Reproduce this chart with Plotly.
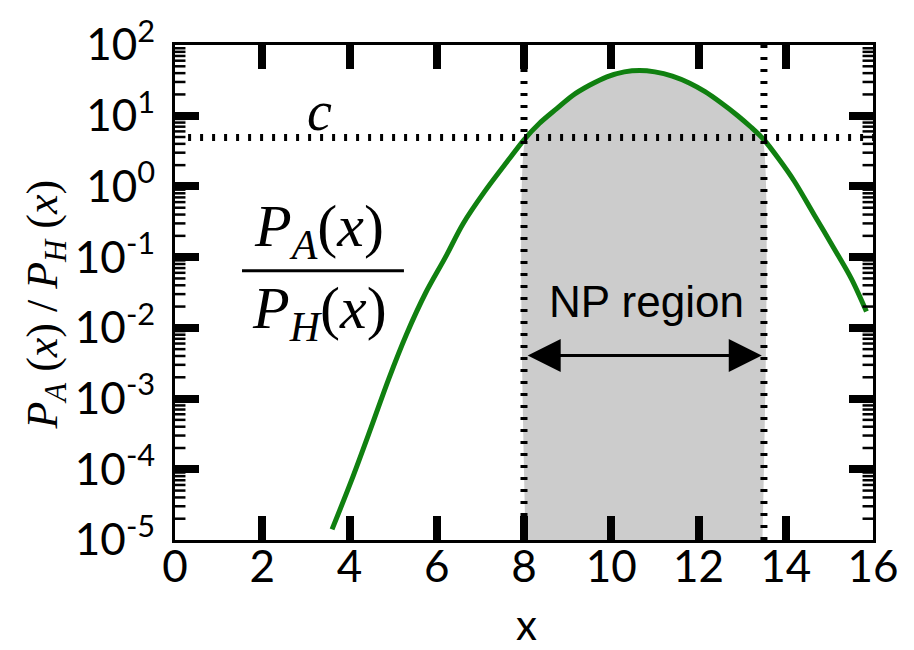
import math
import plotly.graph_objects as go

# ---- data ----
curve_x = [3.6, 4.05, 4.5, 4.9, 5.3, 5.75, 6.2, 6.6, 7.1, 7.65, 8.0, 8.35, 8.75, 9.1, 9.5,
           9.9, 10.3, 10.65, 11.0, 11.4, 11.8, 12.15, 12.5, 12.9, 13.2, 13.5, 13.85,
           14.2, 14.65, 15.1, 15.5, 15.85]
curve_log10 = [-4.85, -4.15, -3.4, -2.72, -2.1, -1.5, -1.0, -0.53, -0.07, 0.38, 0.66, 0.89,
               1.1, 1.28, 1.43, 1.55, 1.62, 1.64, 1.62, 1.56, 1.46, 1.34, 1.19, 1.0, 0.84,
               0.66, 0.38, 0.07, -0.4, -0.87, -1.3, -1.77]
curve_y = [10 ** v for v in curve_log10]

c_value = 4.9
np_low, np_high = 8.0, 13.5
x_range = [0, 16]
y_log_range = [-5, 2]
y_min, y_max = 10 ** y_log_range[0], 10 ** y_log_range[1]
c_line_x = [0.3, 16]

x_tickvals = [0, 2, 4, 6, 8, 10, 12, 14, 16]
y_exps = [-5, -4, -3, -2, -1, 0, 1, 2]
y_tickvals = [10 ** e for e in y_exps]
y_ticktext = ["10<sup>%d</sup>" % e for e in y_exps]
y_minor_vals = [m * 10 ** e for e in y_exps[:-1] for m in range(2, 10)]

# ---- figure ----
fig = go.Figure()

fill_x = [np_low] + [x for x in curve_x if np_low <= x <= np_high] + [np_high]
fill_y = [y_min] + [y for x, y in zip(curve_x, curve_y) if np_low <= x <= np_high] + [y_min]
fig.add_trace(go.Scatter(x=fill_x, y=fill_y, mode="lines", fill="toself",
                         fillcolor="#cccccc", line=dict(color="white", width=3, shape="spline", smoothing=0.5),
                         hoverinfo="skip", showlegend=False))

fig.add_trace(go.Scatter(x=curve_x, y=curve_y, mode="lines",
                         line=dict(color="#108010", width=5, shape="spline", smoothing=0.9),
                         showlegend=False))

dot = dict(color="black", width=7, dash="3px,9px")
fig.add_trace(go.Scatter(x=c_line_x, y=[c_value, c_value], mode="lines", line=dot, showlegend=False))
for xv in (np_low, np_high):
    fig.add_trace(go.Scatter(x=[xv, xv], y=[y_min, y_max], mode="lines", line=dot, showlegend=False))

# minor ticks of the log axis, drawn inside on both sides at the minor tick values
minor_len = 0.24  # in x units (about 10 px)
mx, my = [], []
for v in y_minor_vals:
    for a, b in ((x_range[0], x_range[0] + minor_len), (x_range[1] - minor_len, x_range[1])):
        mx += [a, b, None]
        my += [v, v, None]
fig.add_trace(go.Scatter(x=mx, y=my, mode="lines", line=dict(color="black", width=2.5),
                         hoverinfo="skip", showlegend=False, cliponaxis=False))

tick_font = dict(family="Liberation Sans Narrow, Arial Narrow, Lato, sans-serif", size=44, color="black")

fig.update_xaxes(range=x_range, tickmode="array", tickvals=x_tickvals,
                 ticks="inside", ticklen=24, tickwidth=8, tickcolor="black",
                 ticklabelstandoff=-14,
                 showline=True, linewidth=3, linecolor="black", mirror="ticks",
                 showgrid=False, zeroline=False, tickfont=tick_font)
fig.update_yaxes(type="log", range=y_log_range, tickmode="array", tickvals=y_tickvals,
                 ticktext=y_ticktext, ticklabelstandoff=8,
                 ticks="inside", ticklen=24, tickwidth=8, tickcolor="black",
                 showline=True, linewidth=3, linecolor="black", mirror="ticks",
                 showgrid=False, zeroline=False, tickfont=tick_font)

shapes = [dict(type="line", xref="paper", yref="paper", x0=0.096, x1=0.328,
               y0=0.544, y1=0.544, line=dict(color="black", width=3))]

serif = "Liberation Serif, DejaVu Serif, serif"
annotations = [
    dict(x=3.31, y=1.07, xref="x", yref="y", text="<i>c</i>", showarrow=False,
         font=dict(family=serif, size=56, color="black")),
    dict(x=3.31, y=-0.62, xref="x", yref="y", text="<i>P</i><sub><i>A</i></sub>(<i>x</i>)",
         showarrow=False, font=dict(family=serif, size=60, color="black")),
    dict(x=3.31, y=-1.78, xref="x", yref="y", text="<i>P</i><sub><i>H</i></sub>(<i>x</i>)",
         showarrow=False, font=dict(family=serif, size=60, color="black")),
    dict(x=10.81, y=-1.63, xref="x", yref="y", text="NP region", showarrow=False,
         font=dict(family="Liberation Sans, Arial, sans-serif", size=44, color="black")),
    dict(x=np_high - 0.05, y=-2.39, ax=np_low + 0.05, ay=-2.39, xref="x", yref="y",
         axref="x", ayref="y", text="", showarrow=True, arrowhead=2, arrowside="end+start",
         arrowsize=2.2, arrowwidth=3, arrowcolor="black", standoff=0, startstandoff=0),
    dict(x=0.504, y=-0.17, xref="paper", yref="paper", xanchor="center", yanchor="middle",
         text="x", showarrow=False,
         font=dict(family="Lato, sans-serif", size=42, color="black")),
    dict(x=-0.186, y=0.476, xref="paper", yref="paper", xanchor="center", yanchor="middle",
         textangle=-90,
         text="<i>P</i><sub><i>A</i></sub> (<i>x</i>) / <i>P</i><sub><i>H</i></sub> (<i>x</i>)",
         showarrow=False, font=dict(family=serif, size=44, color="black")),
]

fig.update_layout(
    width=914, height=650,
    margin=dict(l=175, r=41, t=42, b=110),
    paper_bgcolor="white", plot_bgcolor="white",
    annotations=annotations,
    shapes=shapes,
)

fig.write_html("out.html")
